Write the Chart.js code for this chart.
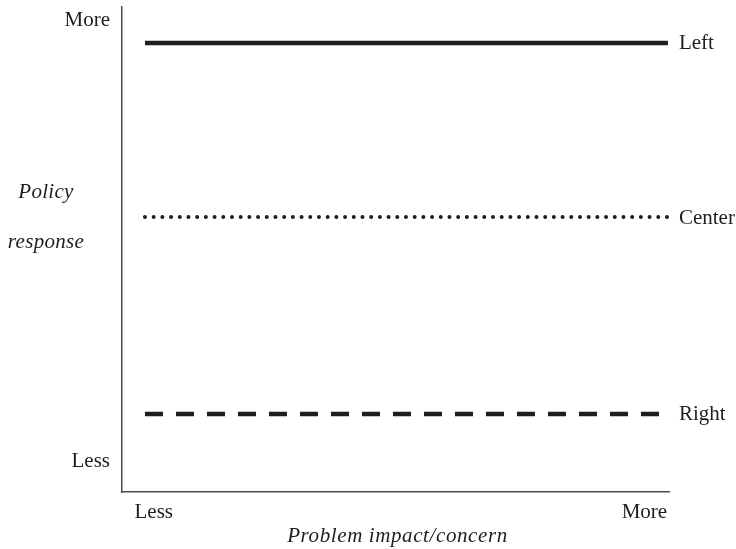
<!DOCTYPE html>
<html>
<head>
<meta charset="utf-8">
<script src="https://cdn.jsdelivr.net/npm/chart.js@4/dist/chart.umd.min.js"></script>
<style>
  html, body { margin: 0; padding: 0; background: #fff; }
  #wrap { width: 736px; height: 549px; position: relative; }
</style>
</head>
<body>
<div id="wrap"><canvas id="policy-chart"></canvas></div>
<script>
// series, one horizontal level each (0 = less, 100 = more)
const seriesNames = ["Left", "Center", "Right"];
const seriesLevels = [92.6, 56.7, 16.1];
// each line runs from here to here along the x axis
const lineX = [4.2, 99.8];

const xTickValues = [5.8, 95.5];
const xTickLabels = ["Less", "More"];
const yTickValues = [6.2, 97.3];
const yTickLabels = ["Less", "More"];
const xTitle = "Problem impact/concern";
const yTitleLines = ["Policy", "response"];

const INK = "#1e1e1e";
const AXIS_COLOR = "#4a4a4a";
const FONT = '"Liberation Serif", "Times New Roman", serif';

Chart.defaults.font.family = FONT;
Chart.defaults.font.size = 21;
Chart.defaults.color = INK;

const lineStyles = [
  { borderWidth: 4.5, borderDash: [], borderCapStyle: "butt" },
  { borderWidth: 4, borderDash: [0, 8.7], borderCapStyle: "round" },
  { borderWidth: 4.5, borderDash: [18, 13], borderCapStyle: "butt" },
];

// names at the right end of each line
const seriesLabelPlugin = {
  id: "seriesLabels",
  afterDatasetsDraw(chart) {
    const { ctx, scales } = chart;
    ctx.save();
    ctx.font = "21px " + FONT;
    ctx.fillStyle = INK;
    ctx.textBaseline = "middle";
    ctx.textAlign = "left";
    seriesNames.forEach((name, i) => {
      const px = scales.x.getPixelForValue(lineX[1]) + 11;
      const py = scales.y.getPixelForValue(seriesLevels[i]);
      ctx.fillText(name, px, py + 1);
    });
    ctx.restore();
  },
};

// axis titles: x below the ticks, y horizontal on two lines
const axisTitlePlugin = {
  id: "axisTitles",
  afterDraw(chart) {
    const { ctx, chartArea } = chart;
    ctx.save();
    ctx.font = "italic 21px " + FONT;
    ctx.fillStyle = INK;
    ctx.textAlign = "center";
    ctx.textBaseline = "middle";
    ctx.letterSpacing = "0.6px";
    ctx.fillText(xTitle, (chartArea.left + chartArea.right) / 2 + 2, 536);
    ctx.letterSpacing = "0.3px";
    yTitleLines.forEach((line, i) => {
      ctx.fillText(line, 46, 192 + i * 50);
    });
    ctx.restore();
  },
};

function createDatasets() {
  return seriesNames.map((name, i) => ({
    label: name,
    data: lineX.map((x) => ({ x: x, y: seriesLevels[i] })),
    borderColor: INK,
    backgroundColor: INK,
    pointRadius: 0,
    fill: false,
    tension: 0,
    ...lineStyles[i],
  }));
}

function createScales() {
  return {
    x: {
      type: "linear",
      min: 0,
      max: 100,
      grid: { display: false, drawTicks: false },
      border: { display: true, color: AXIS_COLOR, width: 1.5 },
      afterBuildTicks: (scale) => {
        scale.ticks = xTickValues.map((v) => ({ value: v }));
      },
      afterFit: (scale) => {
        scale.height = 57;
        scale.paddingLeft = 0;
        scale.paddingRight = 0;
      },
      ticks: {
        autoSkip: false,
        maxRotation: 0,
        padding: 8,
        callback: (value, index) => xTickLabels[index],
      },
    },
    y: {
      type: "linear",
      min: 0,
      max: 100,
      grid: { display: false, drawTicks: false },
      border: { display: true, color: AXIS_COLOR, width: 1.5 },
      afterBuildTicks: (scale) => {
        scale.ticks = yTickValues.map((v) => ({ value: v }));
      },
      afterFit: (scale) => {
        scale.width = 122;
        scale.paddingTop = 0;
        scale.paddingBottom = 0;
      },
      ticks: {
        autoSkip: false,
        padding: 12,
        callback: (value, index) => yTickLabels[index],
      },
    },
  };
}

const ctx = document.getElementById("policy-chart").getContext("2d");
new Chart(ctx, {
  type: "line",
  data: { datasets: createDatasets() },
  options: {
    responsive: true,
    maintainAspectRatio: false,
    animation: false,
    layout: { padding: { top: 7, right: 67, bottom: 0, left: 0 } },
    scales: createScales(),
    plugins: {
      legend: { display: false },
      tooltip: { enabled: false },
    },
  },
  plugins: [seriesLabelPlugin, axisTitlePlugin],
});
</script>
</body>
</html>
